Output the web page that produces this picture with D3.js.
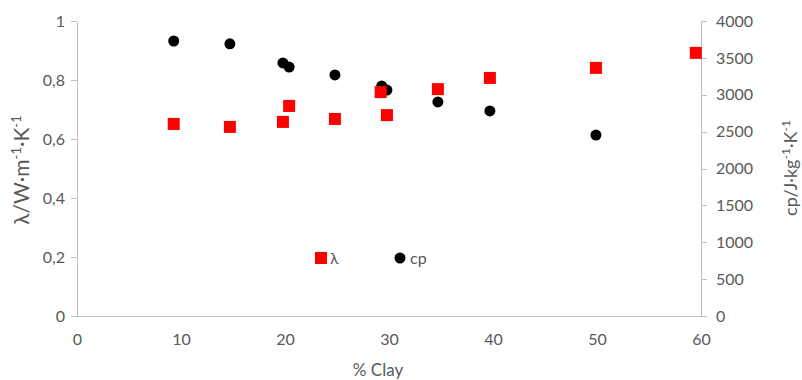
<!DOCTYPE html>
<meta charset="utf-8">
<style>
html,body { margin:0; padding:0; background:#fff; overflow:hidden; }
text { font-family: Lato, "Open Sans", sans-serif; fill:#595959; }
.axis path, .axis line { stroke:#bfbfbf; fill:none; shape-rendering:crispEdges; }
</style>
<body>
<svg></svg>
</body>
<script src="https://d3js.org/d3.v7.min.js"></script>
<script>
// % clay for each sample
var clay = [9.3, 14.7, 19.8, 20.4, 24.8, 29.2, 29.8, 34.7, 39.7, 49.9, 59.5];
// thermal conductivity (W/m/K)
var lambda = [0.651, 0.641, 0.658, 0.712, 0.668, 0.759, 0.681, 0.769, 0.807, 0.841, 0.892];
// specific heat (J/kg/K), one fewer sample
var cpClay = [9.3, 14.7, 19.8, 20.4, 24.8, 29.3, 29.8, 34.7, 39.7, 49.9];
var cp = [3729, 3690, 3431, 3376, 3268, 3119, 3064, 2902, 2780, 2454];

var xTicks = [0, 10, 20, 30, 40, 50, 60];
var yLeftTicks = [0, 0.2, 0.4, 0.6, 0.8, 1];
var yRightTicks = [0, 500, 1000, 1500, 2000, 2500, 3000, 3500, 4000];

var W = 802, H = 380;
var svg = d3.select("svg").attr("width", W).attr("height", H);

var x = d3.scaleLinear().domain([0, 60]).range([77, 701]);
var yL = d3.scaleLinear().domain([0, 1]).range([316, 21]);
var yR = d3.scaleLinear().domain([0, 4000]).range([316, 21]);

var fmt = function(d){ return String(d).replace(".", ","); };

// x axis (no ticks, just line)
var gx = svg.append("g").attr("class","axis").attr("transform","translate(0,316)")
  .call(d3.axisBottom(x).tickValues(xTicks).tickSize(0).tickPadding(18).tickSizeOuter(0));
gx.selectAll("text").attr("font-size", 16);

var gl = svg.append("g").attr("class","axis").attr("transform","translate(77,0)")
  .call(d3.axisLeft(yL).tickValues(yLeftTicks).tickSize(6).tickPadding(6).tickFormat(fmt).tickSizeOuter(0));
gl.selectAll("text").attr("font-size", 16);

var gr = svg.append("g").attr("class","axis").attr("transform","translate(701,0)")
  .call(d3.axisRight(yR).tickValues(yRightTicks).tickSize(6).tickPadding(9)
    .tickFormat(function(d){ return String(d); }).tickSizeOuter(0));
gr.selectAll("text").attr("font-size", 16);

// cp points (black circles)
svg.append("g").selectAll("circle").data(cp).join("circle")
  .attr("cx", function(d,i){ return x(cpClay[i]); })
  .attr("cy", function(d){ return yR(d); })
  .attr("r", 5.5).attr("fill", "#000");

// lambda points (red squares)
var s = 12;
svg.append("g").selectAll("rect").data(lambda).join("rect")
  .attr("x", function(d,i){ return x(clay[i]) - s/2; })
  .attr("y", function(d){ return yL(d) - s/2; })
  .attr("width", s).attr("height", s).attr("fill", "#ff0000");

// legend
var lg = svg.append("g");
lg.append("rect").attr("x", 315).attr("y", 252).attr("width", 12).attr("height", 12).attr("fill","#ff0000");
lg.append("text").attr("x", 330).attr("y", 264).attr("font-size", 16).text("λ");
lg.append("circle").attr("cx", 400).attr("cy", 258).attr("r", 5.5).attr("fill","#000");
lg.append("text").attr("x", 410).attr("y", 264).attr("font-size", 16).text("cp");

// axis titles
var t1 = svg.append("text").attr("transform","translate(29,170) rotate(-90)")
  .attr("text-anchor","middle").attr("font-size", 21);
t1.append("tspan").text("λ/W·m");
t1.append("tspan").attr("dy",-8).attr("font-size",13).text("-1");
t1.append("tspan").attr("dy",8).text("·K");
t1.append("tspan").attr("dy",-8).attr("font-size",13).text("-1");

var t2 = svg.append("text").attr("transform","translate(797,168) rotate(-90)")
  .attr("text-anchor","middle").attr("font-size", 18);
t2.append("tspan").text("cp/J·kg");
t2.append("tspan").attr("dy",-7).attr("font-size",12).text("-1");
t2.append("tspan").attr("dy",7).text("·K");
t2.append("tspan").attr("dy",-7).attr("font-size",12).text("-1");

svg.append("text").attr("x", 378).attr("y", 376).attr("text-anchor","middle")
  .attr("font-size", 17).text("% Clay");
</script>
